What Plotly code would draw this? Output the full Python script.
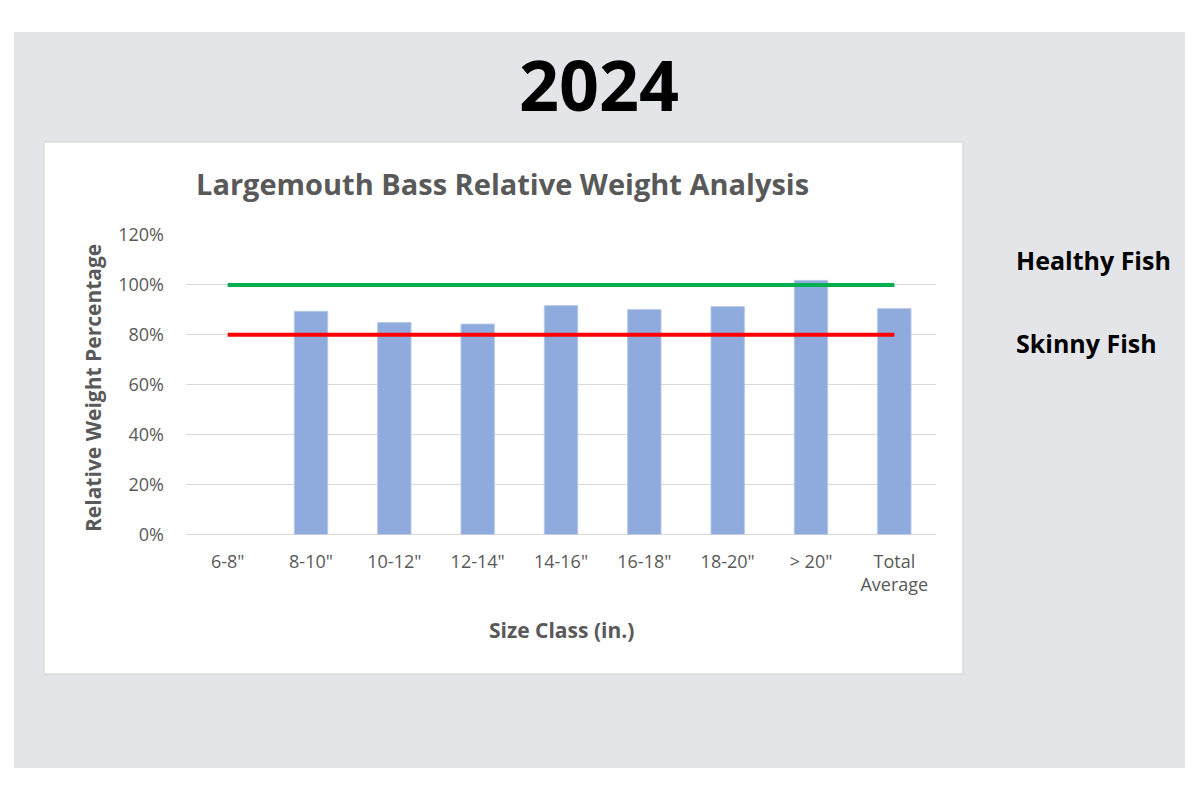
import plotly.graph_objects as go

# Size classes and relative weights (fraction of standard weight)
size_classes = ['6-8"', '8-10"', '10-12"', '12-14"', '14-16"', '16-18"', '18-20"', '> 20"', 'Total<br>Average']
relative_weight = [None, 0.894, 0.849, 0.843, 0.917, 0.901, 0.913, 1.018, 0.905]

# Reference lines
healthy_fish = [1.0, 1.0, 1.0, 1.0, 1.0, 1.0, 1.0, 1.0, 1.0]
skinny_fish = [0.8, 0.8, 0.8, 0.8, 0.8, 0.8, 0.8, 0.8, 0.8]

W, H = 1200, 800
OFFSET = 8  # page body margin
GRAY_TXT = '#595959'
FONT = 'Open Sans'


# screen pixel -> paper fraction
def px(x):
    return (x - OFFSET) / W


def py(y):
    return 1 - (y - OFFSET) / H


def label(text, x, y, size, color=GRAY_TXT, angle=0, family=FONT, xanchor='center'):
    return dict(text=text, x=px(x), y=py(y), xref='paper', yref='paper',
                xanchor=xanchor, yanchor='middle', showarrow=False, textangle=angle,
                font=dict(family=family, size=size, color=color))


fig = go.Figure()

fig.add_trace(go.Bar(
    x=size_classes, y=relative_weight,
    marker=dict(color='#8FAADC', line=dict(color='#B4C7E7', width=1)),
    width=0.4, showlegend=False,
))
fig.add_trace(go.Scatter(
    x=size_classes, y=healthy_fish, mode='lines',
    line=dict(color='#00B050', width=4), showlegend=False,
))
fig.add_trace(go.Scatter(
    x=size_classes, y=skinny_fish, mode='lines',
    line=dict(color='#FF0000', width=4), showlegend=False,
))

fig.update_layout(
    width=W, height=H,
    margin=dict(l=0, r=0, t=0, b=0, autoexpand=False),
    paper_bgcolor='white',
    plot_bgcolor='white',
    font=dict(family=FONT, color=GRAY_TXT),
    xaxis=dict(
        domain=[px(186), px(936)],
        showgrid=False, zeroline=False,
        showline=False, automargin=False,
        tickfont=dict(size=18, color=GRAY_TXT),
        ticks='', ticklabelstandoff=14,
    ),
    yaxis=dict(
        domain=[py(534.5), py(235)],
        range=[0, 1.2], dtick=0.2, tickformat='.0%',
        showgrid=True, gridcolor='#D9D9D9', gridwidth=1,
        zeroline=True, zerolinecolor='#D9D9D9', zerolinewidth=1,
        showline=False, automargin=False,
        tickfont=dict(size=18, color=GRAY_TXT),
        ticks='', ticklabelstandoff=21,
    ),
    shapes=[
        # gray backdrop
        dict(type='rect', xref='paper', yref='paper', layer='below',
             x0=px(14), x1=px(1185), y0=py(768), y1=py(32),
             fillcolor='#E4E5E9', line=dict(width=0)),
        # white chart card
        dict(type='rect', xref='paper', yref='paper', layer='below',
             x0=px(44), x1=px(963), y0=py(674), y1=py(142),
             fillcolor='white', line=dict(color='#D0D0D0', width=1)),
    ],
    annotations=[
        label('<b>2024</b>', 599, 84, 70, color='black'),
        label('<b>Largemouth Bass Relative Weight Analysis</b>', 502, 184, 29),
        label('<b>Relative Weight Percentage</b>', 93, 388, 21, angle=-90),
        label('<b>Size Class (in.)</b>', 561, 630, 21),
        label('<b>Healthy Fish</b>', 1014, 260, 25, color='black', xanchor='left'),
        label('<b>Skinny Fish</b>', 1014, 343, 25, color='black', xanchor='left'),
    ],
)

fig.write_html("out.html")
